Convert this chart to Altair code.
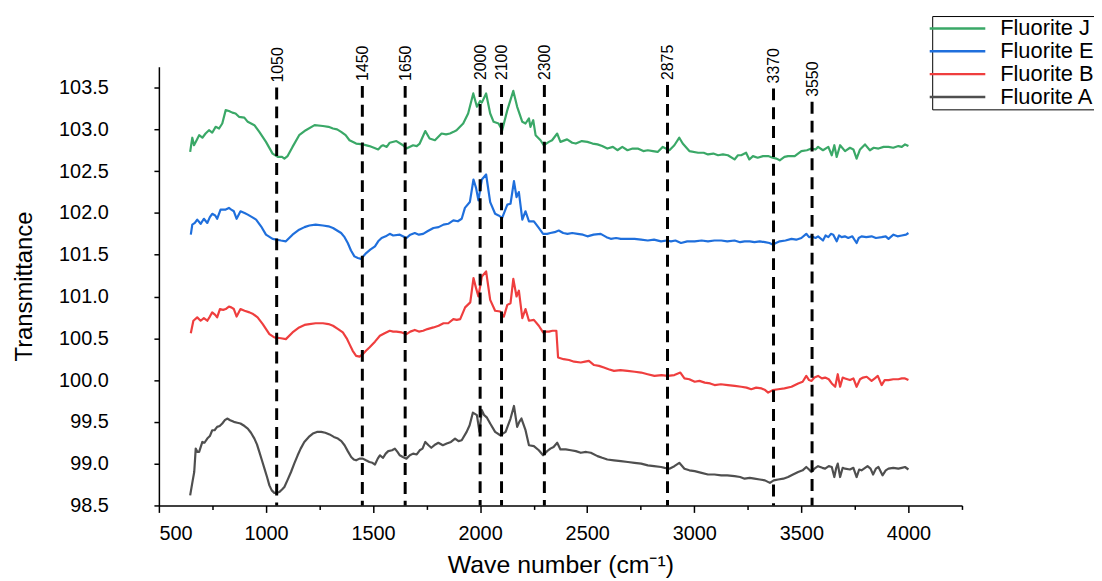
import altair as alt
import pandas as pd

# ---------------- data ----------------
series_names = ["Fluorite J", "Fluorite E", "Fluorite B", "Fluorite A"]
series_colors = ["#3aa867", "#1f6fdc", "#ef3e3e", "#4f4f4f"]

fluorite_j = [(646,102.73),(656,102.90),(664,102.81),(678,102.88),(688,102.93),(703,102.90),(718,102.95),(734,102.99),(749,102.96),(765,103.03),(781,103.01),(796,103.07),(812,103.23),(827,103.22),(843,103.20),(858,103.19),(874,103.15),(899,103.14),(915,103.09),(946,103.05),(969,102.97),(1000,102.85),(1031,102.71),(1055,102.67),(1075,102.67),(1086,102.65),(1101,102.68),(1124,102.79),(1155,102.93),(1186,102.99),(1227,103.05),(1266,103.04),(1292,103.03),(1313,103.01),(1332,103.00),(1351,102.97),(1372,102.93),(1390,102.87),(1421,102.83),(1452,102.82),(1483,102.80),(1504,102.78),(1524,102.76),(1539,102.80),(1547,102.81),(1564,102.79),(1578,102.84),(1609,102.86),(1640,102.81),(1656,102.77),(1687,102.81),(1704,102.80),(1718,102.83),(1744,102.98),(1764,102.89),(1789,102.87),(1820,102.95),(1841,102.94),(1859,102.95),(1876,102.97),(1890,102.99),(1921,103.07),(1944,103.19),(1968,103.43),(1985,103.27),(2000,103.34),(2008,103.32),(2028,103.43),(2047,103.19),(2063,103.09),(2086,103.07),(2103,102.99),(2127,103.23),(2155,103.46),(2173,103.27),(2197,103.09),(2212,103.07),(2228,103.13),(2235,103.03),(2248,103.11),(2259,102.93),(2282,102.87),(2297,102.81),(2321,102.85),(2336,102.87),(2360,102.95),(2375,102.85),(2406,102.88),(2430,102.84),(2447,102.83),(2475,102.86),(2501,102.85),(2525,102.83),(2548,102.82),(2570,102.80),(2594,102.77),(2620,102.79),(2641,102.75),(2664,102.79),(2688,102.75),(2712,102.77),(2736,102.77),(2762,102.74),(2783,102.75),(2807,102.74),(2829,102.73),(2853,102.79),(2884,102.75),(2907,102.81),(2930,102.90),(2946,102.83),(2977,102.74),(3018,102.72),(3044,102.72),(3064,102.70),(3089,102.71),(3111,102.69),(3134,102.70),(3157,102.69),(3188,102.64),(3204,102.69),(3219,102.69),(3242,102.72),(3257,102.64),(3274,102.68),(3296,102.66),(3321,102.68),(3345,102.68),(3366,102.66),(3384,102.65),(3399,102.63),(3421,102.67),(3438,102.68),(3469,102.68),(3500,102.74),(3526,102.75),(3547,102.77),(3566,102.76),(3578,102.79),(3601,102.75),(3626,102.79),(3642,102.69),(3654,102.81),(3665,102.67),(3681,102.81),(3704,102.74),(3727,102.78),(3743,102.76),(3758,102.65),(3774,102.76),(3797,102.82),(3820,102.75),(3838,102.78),(3860,102.77),(3884,102.79),(3907,102.79),(3929,102.78),(3953,102.80),(3969,102.79),(3984,102.82),(4000,102.80)]

fluorite_e = [(649,101.74),(656,101.86),(668,101.88),(679,101.92),(695,101.87),(710,101.93),(726,101.88),(738,101.95),(749,101.99),(763,101.97),(772,101.93),(788,102.04),(812,102.04),(827,102.06),(838,102.04),(850,102.02),(863,101.93),(881,102.02),(900,102.00),(915,101.98),(935,101.95),(954,101.92),(977,101.84),(1000,101.74),(1031,101.69),(1070,101.67),(1093,101.66),(1124,101.74),(1155,101.80),(1180,101.83),(1203,101.85),(1232,101.86),(1266,101.85),(1292,101.84),(1313,101.82),(1332,101.79),(1351,101.76),(1367,101.71),(1382,101.64),(1397,101.55),(1413,101.48),(1429,101.46),(1444,101.45),(1468,101.52),(1487,101.56),(1509,101.60),(1524,101.66),(1540,101.70),(1559,101.72),(1578,101.75),(1594,101.73),(1625,101.74),(1656,101.70),(1674,101.74),(1695,101.76),(1714,101.74),(1734,101.75),(1754,101.78),(1782,101.82),(1806,101.83),(1829,101.86),(1851,101.87),(1875,101.91),(1896,101.90),(1914,101.93),(1929,102.06),(1952,102.13),(1969,102.40),(1981,102.30),(1992,102.15),(2008,102.40),(2028,102.46),(2047,102.13),(2070,101.99),(2086,101.97),(2103,101.94),(2127,102.10),(2142,102.11),(2158,102.38),(2170,102.19),(2181,102.25),(2197,101.92),(2212,102.02),(2228,101.90),(2251,101.90),(2274,101.82),(2294,101.75),(2313,101.75),(2328,101.76),(2348,101.77),(2367,101.79),(2388,101.76),(2408,101.75),(2430,101.76),(2455,101.75),(2480,101.74),(2501,101.72),(2530,101.74),(2563,101.75),(2590,101.71),(2610,101.69),(2635,101.70),(2657,101.69),(2690,101.69),(2721,101.69),(2752,101.68),(2783,101.67),(2812,101.68),(2845,101.66),(2872,101.67),(2891,101.66),(2912,101.67),(2938,101.64),(2967,101.66),(3002,101.66),(3034,101.67),(3064,101.66),(3094,101.67),(3126,101.67),(3154,101.66),(3188,101.67),(3214,101.65),(3235,101.66),(3259,101.66),(3281,101.65),(3306,101.66),(3330,101.65),(3351,101.64),(3368,101.62),(3381,101.64),(3399,101.66),(3426,101.67),(3454,101.69),(3476,101.68),(3500,101.70),(3523,101.75),(3536,101.71),(3547,101.72),(3566,101.70),(3578,101.72),(3601,101.67),(3613,101.73),(3626,101.71),(3638,101.75),(3649,101.74),(3665,101.66),(3676,101.73),(3688,101.71),(3703,101.72),(3719,101.70),(3738,101.72),(3758,101.64),(3768,101.70),(3781,101.72),(3803,101.71),(3828,101.72),(3848,101.70),(3875,101.71),(3894,101.72),(3907,101.69),(3930,101.74),(3949,101.72),(3969,101.73),(3989,101.74),(4000,101.76)]

fluorite_b = [(649,100.56),(661,100.71),(679,100.75),(695,100.71),(710,100.74),(726,100.71),(738,100.76),(749,100.81),(763,100.78),(772,100.75),(785,100.85),(800,100.84),(812,100.85),(827,100.88),(838,100.87),(850,100.85),(863,100.76),(881,100.85),(900,100.83),(923,100.81),(940,100.79),(961,100.75),(985,100.67),(1016,100.55),(1039,100.51),(1070,100.50),(1093,100.49),(1124,100.57),(1155,100.63),(1180,100.66),(1203,100.67),(1232,100.68),(1266,100.68),(1292,100.67),(1313,100.65),(1337,100.61),(1359,100.57),(1377,100.50),(1390,100.43),(1405,100.35),(1421,100.29),(1437,100.28),(1452,100.31),(1467,100.35),(1483,100.39),(1509,100.46),(1532,100.53),(1554,100.56),(1578,100.59),(1594,100.58),(1609,100.58),(1634,100.57),(1656,100.55),(1674,100.58),(1695,100.60),(1714,100.58),(1734,100.59),(1754,100.61),(1782,100.63),(1806,100.65),(1829,100.68),(1851,100.68),(1875,100.73),(1891,100.72),(1907,100.73),(1930,100.87),(1954,100.93),(1969,101.22),(1981,101.10),(1992,101.00),(2008,101.24),(2028,101.30),(2047,100.96),(2070,100.83),(2094,100.82),(2111,100.76),(2127,100.90),(2142,100.92),(2155,101.21),(2170,101.00),(2181,101.07),(2197,100.74),(2212,100.85),(2228,100.71),(2251,100.72),(2274,100.65),(2294,100.57),(2308,100.58),(2321,100.58),(2338,100.59),(2356,100.59),(2364,100.27),(2390,100.25),(2415,100.24),(2439,100.22),(2470,100.21),(2490,100.22),(2508,100.23),(2532,100.18),(2555,100.17),(2578,100.15),(2600,100.13),(2625,100.11),(2655,100.12),(2688,100.11),(2722,100.10),(2752,100.09),(2782,100.07),(2814,100.05),(2847,100.06),(2876,100.05),(2907,100.06),(2935,100.09),(2954,100.02),(2977,100.01),(3002,99.98),(3024,99.99),(3049,99.97),(3074,99.96),(3095,99.94),(3124,99.95),(3157,99.94),(3189,99.93),(3219,99.92),(3244,99.91),(3266,99.89),(3289,99.91),(3314,99.90),(3331,99.88),(3345,99.85),(3366,99.88),(3392,99.89),(3421,99.90),(3454,99.92),(3485,99.96),(3506,99.98),(3523,100.05),(3536,100.00),(3547,99.99),(3561,100.03),(3578,100.05),(3596,100.02),(3611,100.03),(3628,100.01),(3642,99.96),(3658,99.92),(3670,100.07),(3681,99.92),(3693,100.03),(3704,100.02),(3727,100.00),(3743,100.02),(3758,99.92),(3774,100.01),(3788,100.03),(3805,100.04),(3828,99.99),(3843,100.02),(3857,100.05),(3875,99.94),(3889,100.00),(3907,100.00),(3929,100.01),(3953,100.01),(3969,100.02),(3984,100.02),(4000,100.00)]

fluorite_a = [(646,98.62),(658,98.80),(665,98.90),(672,99.18),(680,99.14),(688,99.14),(703,99.26),(713,99.25),(726,99.30),(738,99.33),(749,99.40),(760,99.40),(772,99.44),(784,99.45),(796,99.48),(808,99.52),(819,99.54),(833,99.52),(850,99.50),(866,99.49),(881,99.48),(900,99.45),(915,99.42),(930,99.37),(946,99.30),(958,99.23),(969,99.14),(980,99.05),(993,98.94),(1005,98.84),(1016,98.74),(1027,98.68),(1039,98.65),(1050,98.65),(1062,98.66),(1075,98.69),(1086,98.72),(1100,98.80),(1117,98.90),(1132,99.00),(1148,99.10),(1162,99.18),(1179,99.26),(1200,99.32),(1219,99.36),(1238,99.38),(1258,99.38),(1277,99.37),(1297,99.35),(1317,99.32),(1336,99.30),(1352,99.27),(1367,99.22),(1382,99.15),(1398,99.08),(1410,99.05),(1421,99.04),(1437,99.06),(1452,99.06),(1467,99.04),(1483,99.02),(1497,99.01),(1509,98.99),(1522,99.06),(1532,99.10),(1547,99.07),(1559,99.12),(1571,99.15),(1589,99.16),(1602,99.18),(1614,99.14),(1625,99.10),(1639,99.08),(1656,99.06),(1672,99.10),(1687,99.12),(1704,99.11),(1718,99.16),(1731,99.18),(1744,99.26),(1759,99.22),(1772,99.19),(1791,99.23),(1805,99.25),(1826,99.22),(1844,99.24),(1864,99.26),(1883,99.30),(1899,99.27),(1914,99.28),(1937,99.38),(1951,99.46),(1966,99.61),(1985,99.58),(1997,99.38),(2008,99.64),(2019,99.58),(2032,99.55),(2047,99.48),(2070,99.38),(2094,99.34),(2119,99.38),(2142,99.54),(2158,99.69),(2173,99.44),(2183,99.50),(2193,99.54),(2212,99.40),(2228,99.22),(2251,99.21),(2274,99.16),(2294,99.10),(2313,99.15),(2328,99.18),(2343,99.20),(2360,99.25),(2375,99.17),(2400,99.17),(2424,99.16),(2447,99.15),(2470,99.13),(2495,99.14),(2517,99.13),(2548,99.09),(2570,99.07),(2594,99.05),(2625,99.04),(2657,99.03),(2690,99.02),(2721,99.01),(2752,99.00),(2783,98.98),(2812,98.97),(2845,98.96),(2862,98.95),(2884,98.94),(2907,98.97),(2930,99.01),(2954,98.94),(2977,98.92),(3002,98.91),(3034,98.89),(3064,98.87),(3094,98.87),(3126,98.86),(3154,98.86),(3188,98.85),(3214,98.84),(3235,98.82),(3259,98.83),(3281,98.82),(3306,98.81),(3330,98.80),(3353,98.77),(3371,98.80),(3392,98.81),(3416,98.82),(3438,98.84),(3461,98.87),(3485,98.90),(3506,98.92),(3523,98.96),(3536,98.93),(3547,98.90),(3561,98.94),(3578,98.97),(3598,98.95),(3611,98.94),(3628,98.97),(3642,98.96),(3654,98.84),(3663,98.95),(3670,99.00),(3681,98.84),(3693,98.95),(3704,98.94),(3727,98.93),(3743,98.95),(3758,98.84),(3770,98.93),(3781,98.92),(3809,98.97),(3823,98.94),(3835,98.87),(3848,98.94),(3860,98.96),(3879,98.86),(3894,98.92),(3907,98.94),(3929,98.95),(3953,98.94),(3969,98.95),(3984,98.96),(4000,98.93)]

# marked band positions (cm-1) and the transmittance where each dashed marker starts
peak_positions = [1050, 1450, 1650, 2000, 2100, 2300, 2875, 3370, 3550]
marker_tops = [103.50, 103.52, 103.52, 103.53, 103.53, 103.53, 103.53, 103.49, 103.33]
marker_bottom = 98.5

x_tick_values = list(range(500, 4251, 250))
y_tick_values = [98.5 + 0.25 * i for i in range(22)]

# ---------------- tables ----------------
rows = []
for name, pts in zip(series_names, [fluorite_j, fluorite_e, fluorite_b, fluorite_a]):
    for wn, t in pts:
        rows.append({"series": name, "wn": wn, "t": t})
spectra = pd.DataFrame(rows)

markers = pd.DataFrame({
    "wn": peak_positions,
    "top": marker_tops,
    "bottom": [marker_bottom] * len(peak_positions),
    "label": [str(p) for p in peak_positions],
})

FONT = "Liberation Sans"
XTITLE = "Wave number (cm\u207b\u00b9)"
YTITLE = "Transmittance"
BLANK_PAD = "\u2800" * 6

x_scale = alt.Scale(domain=[500, 4250], nice=False, zero=False)
y_scale = alt.Scale(domain=[98.5, 103.75], nice=False, zero=False)

x_axis = alt.Axis(
    values=x_tick_values,
    format="d",
    labelExpr="(datum.value % 500 === 0 && datum.value <= 4000) ? datum.label : ''",
    tickSize={"condition": {"test": "datum.value % 500 === 0", "value": 7}, "value": 4},
    labelPadding=11,
    grid=False,
    titleY=68,
    titleBaseline="alphabetic",
    titleFontSize=25,
)
y_axis = alt.Axis(
    values=y_tick_values,
    labelExpr="(datum.value * 2 === floor(datum.value * 2)) ? format(datum.value, '.1f') : ''",
    tickSize=5,
    labelPadding=46,
    grid=False,
    titleX=-135,
    titleBaseline="middle",
    titleFontSize=24,
)

lines = alt.Chart(spectra).mark_line(strokeWidth=2.2, strokeJoin="round").encode(
    x=alt.X("wn:Q", scale=x_scale, axis=x_axis, title=XTITLE),
    y=alt.Y("t:Q", scale=y_scale, axis=y_axis, title=YTITLE),
    color=alt.Color(
        "series:N",
        scale=alt.Scale(domain=series_names, range=series_colors),
        sort=series_names,
        legend=alt.Legend(
            title=None,
            orient="none",
            legendX=779,
            legendY=-51,
            symbolType="M-3.5,0H3.5",
            symbolSize=256,
            symbolStrokeWidth=2.5,
            symbolOffset=13,
            labelOffset=32,
            labelFont=FONT,
            labelFontSize=22,
            labelColor="black",
            labelLimit=600,
            labelExpr="datum.label + '" + BLANK_PAD + "'",
            padding=1.5,
            rowPadding=1,
            strokeColor="black",
            fillColor="white",
            cornerRadius=0,
        ),
    ),
)

rules = alt.Chart(markers).mark_rule(color="black", strokeWidth=3, strokeDash=[12, 7]).encode(
    x=alt.X("wn:Q", scale=x_scale, title=XTITLE),
    y=alt.Y("top:Q", scale=y_scale, title=YTITLE),
    y2="bottom:Q",
)

labels = alt.Chart(markers).mark_text(
    angle=270, align="left", baseline="middle", dx=5, dy=1,
    font=FONT, fontSize=16, color="black",
).encode(
    x=alt.X("wn:Q", scale=x_scale, title=XTITLE),
    y=alt.Y("top:Q", scale=y_scale, title=YTITLE),
    text="label:N",
)

chart = (
    alt.layer(lines, rules, labels)
    .properties(
        width=809,
        height=442,
        autosize=alt.AutoSizeParams(type="none"),
        padding={"left": 152, "top": 57, "right": 133, "bottom": 72},
        background="white",
    )
    .configure_view(stroke="transparent")
    .configure_axis(
        domainColor="black",
        domainWidth=1.5,
        tickColor="black",
        tickWidth=1.5,
        labelFont=FONT,
        labelFontSize=20,
        labelColor="black",
        titleFont=FONT,
        titleFontWeight="normal",
        titleColor="black",
    )
)

chart.save("out.html", embed_options={"renderer": "svg", "actions": False})
